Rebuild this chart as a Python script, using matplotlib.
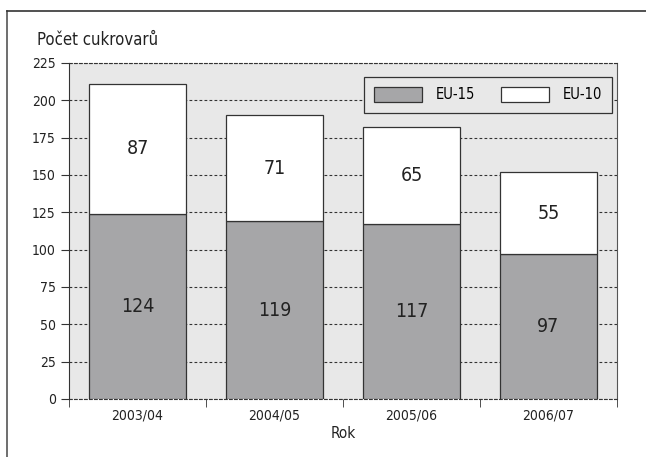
import numpy as np
import matplotlib.pyplot as plt
from matplotlib.lines import Line2D

years = ['2003/04', '2004/05', '2005/06', '2006/07']
eu15 = [124, 119, 117, 97]
eu10 = [87, 71, 65, 55]

plt.rcParams['font.family'] = ['Liberation Sans Narrow', 'DejaVu Sans']
plt.rcParams['font.stretch'] = 'condensed'

fig = plt.figure(figsize=(6.46, 4.57), dpi=100)
ax = fig.add_axes([69/646, 1 - 399/457, (617 - 69)/646, (399 - 63)/457])
ax.set_facecolor('#e8e8e8')

x = np.arange(len(years))
ax.bar(x, eu15, width=0.71, color='#a6a6a8', edgecolor='#333333', linewidth=0.9, label='EU-15', zorder=3)
ax.bar(x, eu10, width=0.71, bottom=eu15, color='white', edgecolor='#333333', linewidth=0.9, label='EU-10', zorder=3)

for i in range(len(years)):
    ax.text(x[i], eu15[i] / 2, str(eu15[i]), ha='center', va='center', fontsize=14, color='#222222', zorder=4)
    ax.text(x[i], eu15[i] + eu10[i] / 2, str(eu10[i]), ha='center', va='center', fontsize=14, color='#222222', zorder=4)

ax.set_xlim(-0.5, len(years) - 0.5)
ax.set_ylim(0, 225)
ax.set_yticks(np.arange(0, 226, 25))
ax.yaxis.grid(True, linestyle=(0, (2.5, 2)), color='#333333', linewidth=0.8, zorder=0)
ax.set_axisbelow(True)

ax.set_xticks(x)
ax.set_xticklabels(years)
ax.set_xticks(np.arange(-0.5, len(years)), minor=True)
ax.tick_params(axis='x', which='major', length=0, labelsize=10, pad=7, colors='#222222')
ax.tick_params(axis='x', which='minor', length=6, direction='out', color='#333333')
ax.tick_params(axis='y', length=6, direction='out', labelsize=10, color='#333333', labelcolor='#222222')

for s in ['top', 'bottom']:
    ax.spines[s].set_linestyle((0, (2.5, 2)))
    ax.spines[s].set_color('#333333')
ax.spines['left'].set_color('#333333')
ax.spines['right'].set_color('#555555')

ax.set_xlabel('Rok', fontsize=11, color='#222222', labelpad=2)
fig.text(37/646, 1 - 40/457, 'Počet cukrovarů', fontsize=12, color='#222222', va='center')

leg = ax.legend(loc='upper right', bbox_to_anchor=(0.991, 0.958), borderaxespad=0, ncol=2, frameon=True,
                fancybox=False, edgecolor='#333333', facecolor='#e8e8e8', framealpha=1, fontsize=10.5,
                handlelength=3.3, handleheight=1.15, handletextpad=0.9, columnspacing=1.8, borderpad=0.7)
leg.get_frame().set_linewidth(0.9)

# outer frame lines
fig.add_artist(Line2D([7/646, 7/646], [0, 1 - 11/457], color='#555555', linewidth=1.2))
fig.add_artist(Line2D([7/646, 1], [1 - 11/457, 1 - 11/457], color='#333333', linewidth=1.2))

fig.savefig('out.png', dpi=100)
